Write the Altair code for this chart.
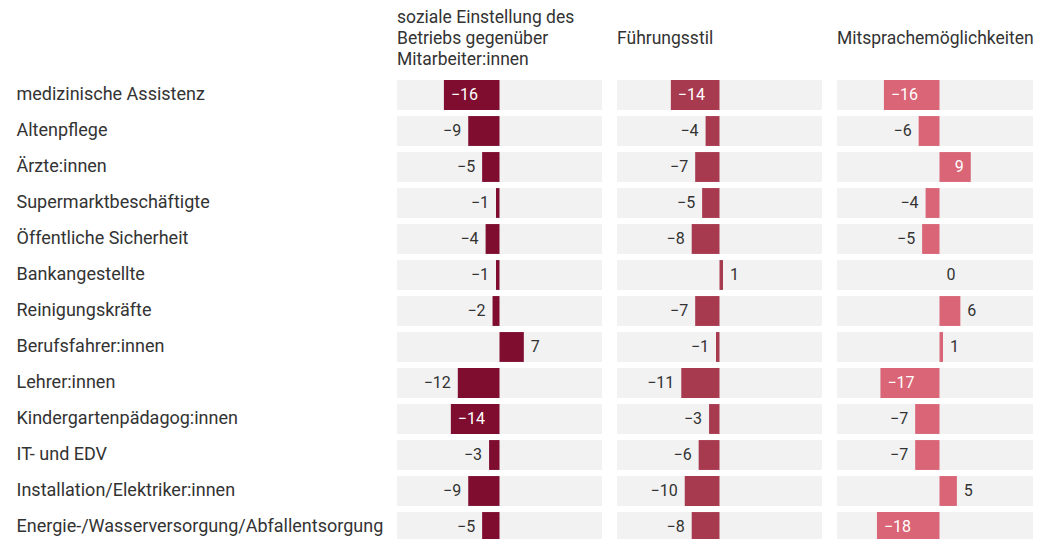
import altair as alt
import pandas as pd

categories = [
    "medizinische Assistenz", "Altenpflege", "Ärzte:innen", "Supermarktbeschäftigte",
    "Öffentliche Sicherheit", "Bankangestellte", "Reinigungskräfte", "Berufsfahrer:innen",
    "Lehrer:innen", "Kindergartenpädagog:innen", "IT- und EDV",
    "Installation/Elektriker:innen", "Energie-/Wasserversorgung/Abfallentsorgung",
]
soziale = [-16, -9, -5, -1, -4, -1, -2, 7, -12, -14, -3, -9, -5]
fuehrung = [-14, -4, -7, -5, -8, 1, -7, -1, -11, -3, -6, -10, -8]
mitsprache = [-16, -6, 9, -4, -5, 0, 6, 1, -17, -7, -7, 5, -18]

PX_PER_UNIT = 205 / 59.0
LO = -29.5

# (title lines, values, colour, panel width)
panels = [
    (["soziale Einstellung des", "Betriebs gegenüber", "Mitarbeiter:innen"], soziale, "#7e0d30", 205),
    (["", "Führungsstil", ""], fuehrung, "#a83a50", 205),
    (["", "Mitsprachemöglichkeiten", ""], mitsprache, "#d96576", 196),
]

H = 468


def make_df(values, hi):
    rows = []
    for c, v in zip(categories, values):
        txt = str(v).replace("-", "\u2212")
        inside = abs(v) * PX_PER_UNIT > len(txt) * 8 + 18
        side = "left" if ((v < 0 and inside) or (v >= 0 and not inside)) else "right"
        rows.append({"cat": c, "value": v, "label": txt, "inside": inside, "side": side,
                     "lo": LO, "hi": hi})
    return pd.DataFrame(rows)


charts = []
for i, (title, values, color, w) in enumerate(panels):
    hi = LO + w / PX_PER_UNIT
    df = make_df(values, hi)
    if i == 0:
        axis = alt.Axis(title=None, domain=False, ticks=False, labelAlign="left",
                        labelPadding=381, labelFontSize=18, labelFont="Roboto",
                        labelColor="#333333", labelLimit=0)
    else:
        axis = None
    y = alt.Y("cat:N", sort=categories, axis=axis,
              scale=alt.Scale(paddingInner=0.17, paddingOuter=0.085))
    xscale = alt.Scale(domain=[LO, hi], nice=False, zero=False)
    base = alt.Chart(df)
    bg = base.mark_bar(color="#f2f2f2").encode(
        x=alt.X("lo:Q", scale=xscale, axis=None), x2="hi:Q", y=y)
    bars = base.mark_bar(color=color).encode(
        x=alt.X("value:Q", scale=xscale, axis=None), x2=alt.datum(0), y=y)
    txt_color = alt.condition("datum.inside", alt.value("white"), alt.value("#333333"))
    left = base.transform_filter("datum.side == 'left'").mark_text(
        align="left", baseline="middle", dx=7, font="Roboto", fontSize=16).encode(
        x=alt.X("value:Q", scale=xscale, axis=None), y=y, text="label:N", color=txt_color)
    right = base.transform_filter("datum.side == 'right'").mark_text(
        align="right", baseline="middle", dx=-7, font="Roboto", fontSize=16).encode(
        x=alt.X("value:Q", scale=xscale, axis=None), y=y, text="label:N", color=txt_color)
    layer = alt.layer(bg, bars, left, right).properties(
        width=w, height=H,
        title=alt.TitleParams(text=title, anchor="start", frame="group", font="Roboto",
                              fontSize=17.5, fontWeight="normal", color="#333333",
                              lineHeight=21, offset=9),
    )
    charts.append(layer)

chart = alt.hconcat(*charts, spacing=15).properties(
    padding={"left": 8, "top": 0, "right": 0, "bottom": 0}
).configure_view(stroke=None)

chart.save("out.html", embed_options={"renderer": "svg", "actions": False})
